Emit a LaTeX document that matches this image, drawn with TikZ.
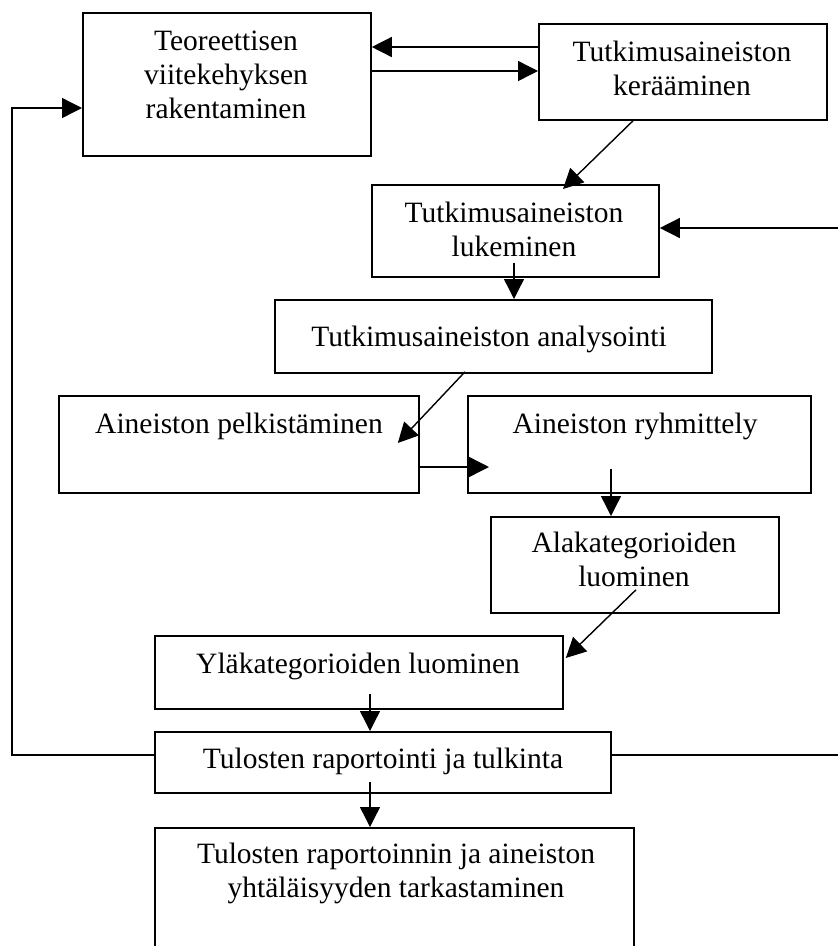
\documentclass[tikz,border=0pt]{standalone}
\usepackage{fontspec}
\setmainfont{Liberation Serif}
\usetikzlibrary{arrows.meta,calc}
\begin{document}
\begin{tikzpicture}[x=1pt,y=-1pt,
  box/.style={draw=black,line width=1.8pt,inner sep=0pt,anchor=north west},
  lbl/.style={inner sep=0pt,anchor=north,align=center,font=\fontsize{29.5}{34}\selectfont},
  arr/.style={line width=1.4pt,-{Triangle[length=20pt,width=20pt]}},
  ln/.style={line width=1.4pt}]
\useasboundingbox (0,0) rectangle (838,946);
\clip (0,0) rectangle (838,946);
% boxes
\node[box,minimum width=288pt,minimum height=143pt] (b1) at (82,12) {};
\node[box,minimum width=288pt,minimum height=96pt] (b2) at (538,23) {};
\node[box,minimum width=287pt,minimum height=92pt] (b3) at (371,184) {};
\node[box,minimum width=437pt,minimum height=73pt] (b4) at (274,299) {};
\node[box,minimum width=360pt,minimum height=97pt] (b5) at (58,395) {};
\node[box,minimum width=343pt,minimum height=97pt] (b6) at (467,395) {};
\node[box,minimum width=288pt,minimum height=96pt] (b7) at (490,516) {};
\node[box,minimum width=408pt,minimum height=73pt] (b8) at (154,635) {};
\node[box,minimum width=456pt,minimum height=61pt] (b9) at (154,731) {};
\node[box,minimum width=479pt,minimum height=173pt] (b10) at (154,827) {};
% texts (north = first baseline - 23.8)
\node[lbl] (t1) at (226,26.2) {\strut Teoreettisen\\\strut viitekehyksen\\\strut rakentaminen};
\node[lbl] (t2) at (682,37.2) {\strut Tutkimusaineiston\\\strut kerääminen};
\node[lbl] (t3) at (514,198.2) {\strut Tutkimusaineiston\\\strut lukeminen};
\node[lbl] (t4) at (489,322.2) {\strut Tutkimusaineiston analysointi};
\node[lbl] (t5) at (239,409.2) {\strut Aineiston pelkistäminen};
\node[lbl] (t6) at (635,409.2) {\strut Aineiston ryhmittely};
\node[lbl] (t7) at (634,528.2) {\strut Alakategorioiden\\\strut luominen};
\node[lbl] (t8) at (358,649.2) {\strut Yläkategorioiden luominen};
\node[lbl] (t9) at (383,744.2) {\strut Tulosten raportointi ja tulkinta};
\node[lbl] (t10) at (396,839.2) {\strut Tulosten raportoinnin ja aineiston\\\strut yhtäläisyyden tarkastaminen};
% free ends
\coordinate (ext1) at (840,228);
\coordinate (ext2) at (840,755);
\coordinate (lft) at (12,755);
% connectors
\draw[arr] ($(b2.north west)+(0,24)$) -- ($(b1.north east)+(0,35)$);
\draw[arr] ($(b1.north east)+(0,59)$) -- ($(b2.north west)+(0,48)$);
\draw[arr] ($(b2.south west)+(95,0)$) -- ($(b3.north west)+(192,5)$);
\draw[arr] ($(b3.south west)+(143,-15)$) -- ($(b4.north west)+(240,0)$);
\draw[arr] (ext1) -- ($(b3.north east)+(0,44)$);
\draw[arr] ($(b4.south west)+(191,-2)$) -- ($(b5.north east)+(-22,48)$);
\draw[arr] ($(b5.north east)+(0,72)$) -- ($(b6.north west)+(22,72)$);
\draw[arr] ($(b6.south west)+(144,-25)$) -- ($(b7.north west)+(121,0)$);
\draw[arr] ($(b7.south west)+(146,-24)$) -- ($(b8.north east)+(2,23)$);
\draw[arr] ($(b8.south west)+(216,-16)$) -- ($(b9.north west)+(216,0)$);
\draw[arr] ($(b9.south west)+(216,-12)$) -- ($(b10.north west)+(216,0)$);
\draw[arr] ($(b9.north west)+(0,24)$) -- (lft) |- ($(b1.north west)+(0,96)$);
\draw[ln] ($(b9.north east)+(0,24)$) -- (ext2);
\end{tikzpicture}
\end{document}
